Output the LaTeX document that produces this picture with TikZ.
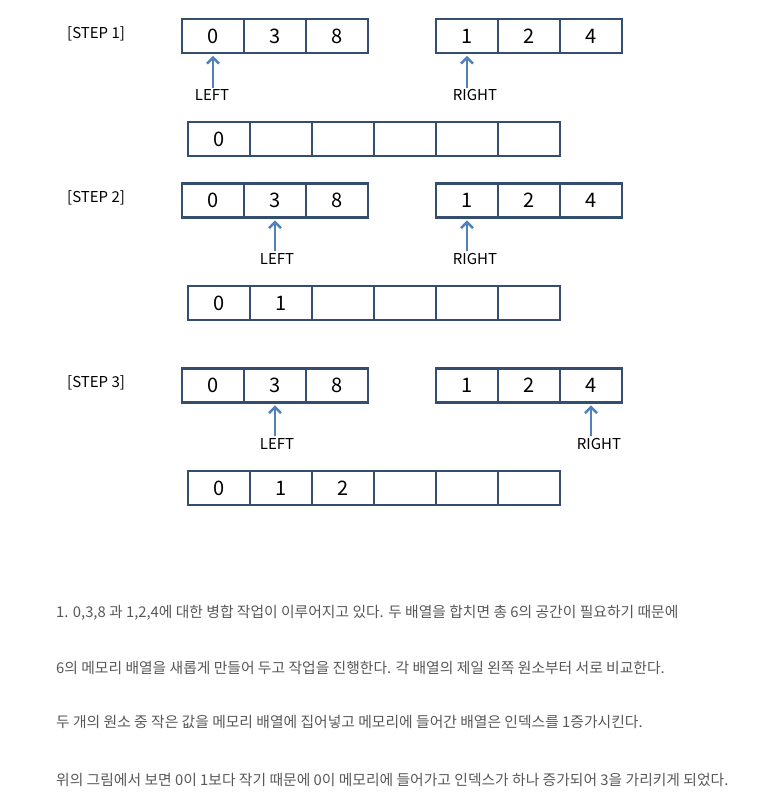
\documentclass[tikz,border=0pt]{standalone}
\usepackage{fontspec}
\setmainfont{Noto Sans CJK KR}
\usetikzlibrary{arrows.meta}
\definecolor{boxline}{RGB}{52,78,112}
\definecolor{ptrblue}{RGB}{79,129,189}
\definecolor{txtgray}{RGB}{88,88,88}
\begin{document}
\begin{tikzpicture}[x=1pt,y=-1pt]
	\tikzstyle{cell}=[draw=boxline,line width=2.8pt,minimum width=62pt,minimum height=34pt,inner sep=0pt,font=\fontsize{20}{20}\selectfont]
	\tikzstyle{ptr}=[draw=ptrblue,line width=2.5pt,shorten >=1.4pt,-{Straight Barb[length=6pt,width=12pt]}]
	\tikzstyle{tag}=[inner sep=0pt,font=\fontsize{15}{15}\selectfont]
	\tikzstyle{note}=[anchor=west,inner sep=0pt,text=txtgray,font=\fontsize{14.8}{15}\selectfont]
	\useasboundingbox (0,0) rectangle (759,809);
	% step 1
	\node [tag,anchor=west] (st1) at (67,34) {[STEP 1]};
	\foreach \v [count=\i] in {0,3,8} \node [cell] (L1\i) at (151+62*\i,36) {\v};
	\foreach \v [count=\i] in {1,2,4} \node [cell] (R1\i) at (405+62*\i,36) {\v};
	\foreach \v [count=\i] in {0,{},{},{},{},{}} \node [cell] (M1\i) at (157+62*\i,139) {\v};
	\coordinate (lp1) at ([yshift=-34pt]L11.south);
	\coordinate (rp1) at ([yshift=-34pt]R11.south);
	\node [tag] (lt1) at (212,95) {LEFT};
	\node [tag] (rt1) at (475,95) {RIGHT};
	\draw [ptr] (lp1) -- (L11.south);
	\draw [ptr] (rp1) -- (R11.south);
	% step 2
	\node [tag,anchor=west] (st2) at (67,198) {[STEP 2]};
	\foreach \v [count=\i] in {0,3,8} \node [cell] (L2\i) at (151+62*\i,200.5) {\v};
	\foreach \v [count=\i] in {1,2,4} \node [cell] (R2\i) at (405+62*\i,200.5) {\v};
	\foreach \v [count=\i] in {0,1,{},{},{},{}} \node [cell] (M2\i) at (157+62*\i,303) {\v};
	\coordinate (lp2) at ([yshift=-32pt]L22.south);
	\coordinate (rp2) at ([yshift=-32pt]R21.south);
	\node [tag] (lt2) at (277,259) {LEFT};
	\node [tag] (rt2) at (475,259) {RIGHT};
	\draw [ptr] (lp2) -- (L22.south);
	\draw [ptr] (rp2) -- (R21.south);
	% step 3
	\node [tag,anchor=west] (st3) at (67,383) {[STEP 3]};
	\foreach \v [count=\i] in {0,3,8} \node [cell] (L3\i) at (151+62*\i,385.5) {\v};
	\foreach \v [count=\i] in {1,2,4} \node [cell] (R3\i) at (405+62*\i,385.5) {\v};
	\foreach \v [count=\i] in {0,1,2,{},{},{}} \node [cell] (M3\i) at (157+62*\i,488) {\v};
	\coordinate (lp3) at ([yshift=-32pt]L32.south);
	\coordinate (rp3) at ([yshift=-32pt]R33.south);
	\node [tag] (lt3) at (277,444) {LEFT};
	\node [tag] (rt3) at (599,444) {RIGHT};
	\draw [ptr] (lp3) -- (L32.south);
	\draw [ptr] (rp3) -- (R33.south);
	% explanation
	\node [note] (n1) at (56,613) {1. 0,3,8 과 1,2,4에 대한 병합 작업이 이루어지고 있다. 두 배열을 합치면 총 6의 공간이 필요하기 때문에};
	\node [note] (n2) at (56,668) {6의 메모리 배열을 새롭게 만들어 두고 작업을 진행한다. 각 배열의 제일 왼쪽 원소부터 서로 비교한다.};
	\node [note] (n3) at (56,722) {두 개의 원소 중 작은 값을 메모리 배열에 집어넣고 메모리에 들어간 배열은 인덱스를 1증가시킨다.};
	\node [note] (n4) at (56,780) {위의 그림에서 보면 0이 1보다 작기 때문에 0이 메모리에 들어가고 인덱스가 하나 증가되어 3을 가리키게 되었다.};
\end{tikzpicture}
\end{document}
